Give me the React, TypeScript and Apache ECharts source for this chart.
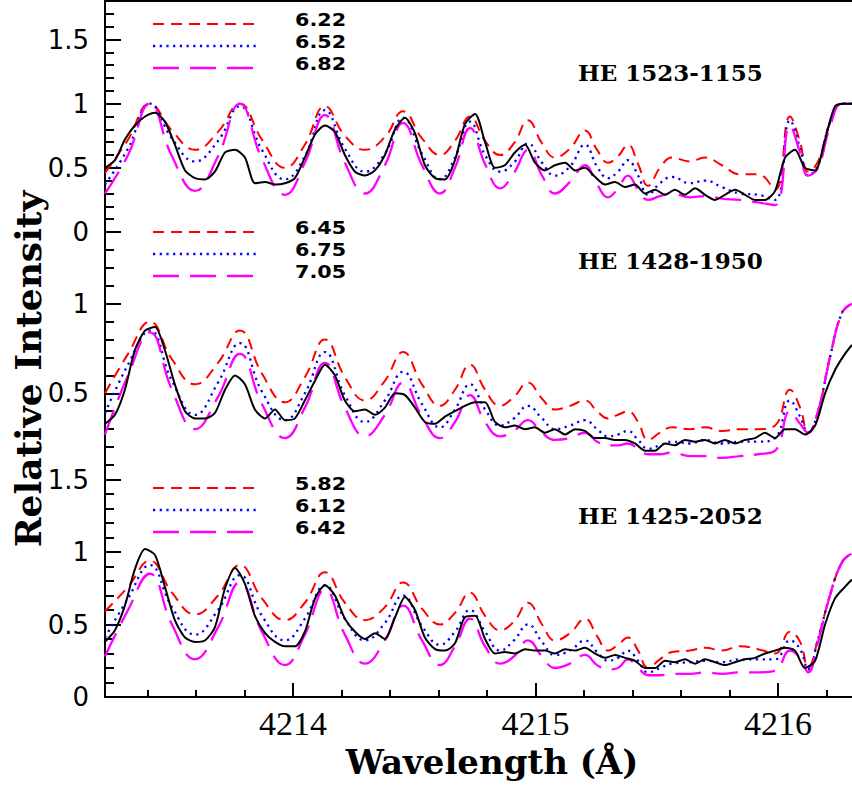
import React, { useEffect, useRef } from "react";
import * as echarts from "echarts";

// ---------- data ----------
// wavelength grid of the synthetic spectra (Å)
const synthWave = [4213.225, 4213.320, 4213.410, 4213.501, 4213.596, 4213.691, 4213.781, 4213.872, 4213.967, 4214.049, 4214.132, 4214.214, 4214.297, 4214.379, 4214.454, 4214.532, 4214.606, 4214.668, 4214.730, 4214.792, 4214.854, 4214.911, 4214.969, 4215.027, 4215.080, 4215.142, 4215.204, 4215.254, 4215.299, 4215.340, 4215.381, 4215.423, 4215.464, 4215.513, 4215.563, 4215.637, 4215.699, 4215.769, 4215.843, 4215.918, 4215.988, 4216.049, 4216.091, 4216.124, 4216.165, 4216.214, 4216.264, 4216.305];

// HE 1523-1155 synthetic spectra
const top622 = [0.46, 0.72, 1.00, 0.79, 0.64, 0.78, 1.00, 0.72, 0.50, 0.68, 0.98, 0.75, 0.64, 0.74, 0.94, 0.73, 0.60, 0.71, 0.90, 0.71, 0.60, 0.69, 0.87, 0.69, 0.58, 0.65, 0.79, 0.64, 0.54, 0.59, 0.68, 0.53, 0.36, 0.50, 0.58, 0.55, 0.58, 0.52, 0.45, 0.45, 0.33, 0.90, 0.70, 0.47, 0.55, 0.85, 1.00, 1.00];
const top652 = [0.37, 0.65, 1.00, 0.73, 0.55, 0.71, 0.98, 0.64, 0.41, 0.59, 0.95, 0.65, 0.47, 0.61, 0.89, 0.61, 0.41, 0.58, 0.86, 0.60, 0.47, 0.54, 0.69, 0.54, 0.44, 0.51, 0.68, 0.51, 0.42, 0.47, 0.56, 0.44, 0.29, 0.38, 0.43, 0.38, 0.40, 0.35, 0.30, 0.29, 0.25, 0.87, 0.65, 0.44, 0.52, 0.85, 1.00, 1.00];
const top682 = [0.30, 0.60, 1.00, 0.59, 0.32, 0.59, 1.00, 0.57, 0.29, 0.54, 0.91, 0.54, 0.30, 0.52, 0.85, 0.52, 0.30, 0.50, 0.81, 0.53, 0.34, 0.46, 0.64, 0.44, 0.30, 0.39, 0.52, 0.37, 0.27, 0.34, 0.44, 0.33, 0.25, 0.28, 0.30, 0.27, 0.28, 0.26, 0.25, 0.23, 0.21, 0.83, 0.62, 0.44, 0.50, 0.82, 1.00, 1.00];

// HE 1428-1950 synthetic spectra
const mid645 = [0.50, 0.72, 0.90, 0.69, 0.55, 0.67, 0.85, 0.61, 0.45, 0.59, 0.80, 0.59, 0.46, 0.57, 0.73, 0.55, 0.43, 0.52, 0.66, 0.52, 0.43, 0.48, 0.56, 0.47, 0.41, 0.43, 0.46, 0.40, 0.36, 0.38, 0.40, 0.34, 0.24, 0.28, 0.31, 0.30, 0.31, 0.29, 0.30, 0.30, 0.32, 0.52, 0.42, 0.28, 0.40, 0.70, 0.95, 1.00];
const mid675 = [0.39, 0.66, 0.85, 0.57, 0.38, 0.56, 0.78, 0.51, 0.35, 0.50, 0.73, 0.49, 0.34, 0.46, 0.62, 0.44, 0.31, 0.41, 0.55, 0.41, 0.32, 0.36, 0.43, 0.36, 0.30, 0.32, 0.35, 0.30, 0.26, 0.27, 0.29, 0.24, 0.19, 0.21, 0.23, 0.22, 0.24, 0.22, 0.23, 0.23, 0.25, 0.46, 0.37, 0.28, 0.40, 0.70, 0.95, 1.00];
const mid705 = [0.27, 0.60, 0.84, 0.52, 0.30, 0.48, 0.72, 0.44, 0.25, 0.42, 0.67, 0.42, 0.26, 0.38, 0.56, 0.37, 0.25, 0.34, 0.49, 0.34, 0.26, 0.29, 0.35, 0.28, 0.24, 0.25, 0.28, 0.23, 0.21, 0.21, 0.22, 0.19, 0.16, 0.16, 0.17, 0.15, 0.15, 0.14, 0.15, 0.16, 0.18, 0.40, 0.33, 0.28, 0.40, 0.70, 0.95, 1.00];

// HE 1425-2052 synthetic spectra
const bot582 = [0.59, 0.76, 0.94, 0.72, 0.57, 0.70, 0.91, 0.68, 0.53, 0.65, 0.86, 0.65, 0.53, 0.62, 0.79, 0.61, 0.50, 0.58, 0.72, 0.56, 0.46, 0.52, 0.65, 0.50, 0.39, 0.44, 0.54, 0.42, 0.32, 0.36, 0.41, 0.32, 0.20, 0.26, 0.31, 0.32, 0.34, 0.32, 0.35, 0.33, 0.30, 0.45, 0.38, 0.20, 0.40, 0.70, 0.93, 0.99];
const bot612 = [0.41, 0.68, 0.91, 0.62, 0.43, 0.60, 0.84, 0.56, 0.39, 0.54, 0.77, 0.54, 0.39, 0.51, 0.70, 0.49, 0.36, 0.45, 0.60, 0.45, 0.32, 0.39, 0.50, 0.38, 0.29, 0.32, 0.39, 0.31, 0.25, 0.27, 0.32, 0.25, 0.17, 0.20, 0.23, 0.24, 0.25, 0.24, 0.26, 0.26, 0.26, 0.39, 0.33, 0.19, 0.40, 0.70, 0.93, 0.99];
const bot642 = [0.28, 0.60, 0.85, 0.50, 0.26, 0.48, 0.79, 0.45, 0.22, 0.43, 0.74, 0.43, 0.23, 0.39, 0.63, 0.39, 0.22, 0.35, 0.54, 0.35, 0.23, 0.28, 0.39, 0.28, 0.20, 0.23, 0.29, 0.22, 0.19, 0.20, 0.26, 0.20, 0.15, 0.15, 0.16, 0.16, 0.17, 0.16, 0.17, 0.17, 0.18, 0.32, 0.27, 0.17, 0.38, 0.70, 0.93, 0.99];

// wavelength grid of the observed spectra (Å)
const obsWave = [4213.225, 4213.266, 4213.307, 4213.348, 4213.390, 4213.431, 4213.472, 4213.513, 4213.555, 4213.596, 4213.637, 4213.678, 4213.720, 4213.761, 4213.802, 4213.843, 4213.885, 4213.926, 4213.967, 4214.008, 4214.049, 4214.091, 4214.132, 4214.173, 4214.214, 4214.256, 4214.297, 4214.338, 4214.379, 4214.421, 4214.462, 4214.503, 4214.544, 4214.586, 4214.627, 4214.668, 4214.709, 4214.751, 4214.792, 4214.833, 4214.874, 4214.915, 4214.957, 4214.998, 4215.039, 4215.080, 4215.122, 4215.163, 4215.204, 4215.245, 4215.287, 4215.328, 4215.369, 4215.410, 4215.452, 4215.493, 4215.534, 4215.575, 4215.616, 4215.658, 4215.699, 4215.740, 4215.781, 4215.823, 4215.864, 4215.905, 4215.946, 4215.988, 4216.029, 4216.070, 4216.111, 4216.153, 4216.194, 4216.235, 4216.276, 4216.305];

const topObs = [0.50, 0.56, 0.72, 0.83, 0.90, 0.93, 0.86, 0.68, 0.48, 0.42, 0.41, 0.47, 0.62, 0.64, 0.58, 0.38, 0.39, 0.37, 0.38, 0.42, 0.58, 0.76, 0.83, 0.78, 0.60, 0.47, 0.44, 0.48, 0.60, 0.80, 0.89, 0.77, 0.52, 0.42, 0.41, 0.56, 0.84, 0.92, 0.70, 0.50, 0.52, 0.62, 0.68, 0.54, 0.48, 0.52, 0.54, 0.48, 0.50, 0.43, 0.37, 0.39, 0.35, 0.37, 0.30, 0.33, 0.29, 0.33, 0.29, 0.34, 0.29, 0.25, 0.29, 0.33, 0.29, 0.25, 0.25, 0.32, 0.58, 0.64, 0.50, 0.48, 0.72, 0.98, 1.00, 1.00];
const midObs = [0.33, 0.38, 0.52, 0.74, 0.85, 0.87, 0.74, 0.55, 0.40, 0.36, 0.36, 0.39, 0.52, 0.60, 0.55, 0.41, 0.36, 0.41, 0.35, 0.36, 0.46, 0.57, 0.66, 0.60, 0.46, 0.40, 0.41, 0.38, 0.42, 0.50, 0.49, 0.42, 0.34, 0.33, 0.37, 0.40, 0.43, 0.45, 0.45, 0.34, 0.31, 0.32, 0.30, 0.31, 0.28, 0.30, 0.27, 0.30, 0.29, 0.25, 0.25, 0.24, 0.24, 0.22, 0.18, 0.18, 0.22, 0.21, 0.24, 0.23, 0.24, 0.22, 0.24, 0.22, 0.24, 0.25, 0.28, 0.25, 0.30, 0.30, 0.27, 0.32, 0.50, 0.63, 0.72, 0.77];
const botObs = [0.38, 0.46, 0.63, 0.88, 1.02, 0.98, 0.76, 0.53, 0.41, 0.38, 0.39, 0.48, 0.75, 0.89, 0.78, 0.56, 0.44, 0.38, 0.35, 0.35, 0.45, 0.68, 0.77, 0.70, 0.54, 0.45, 0.40, 0.44, 0.40, 0.55, 0.69, 0.60, 0.41, 0.33, 0.32, 0.37, 0.55, 0.56, 0.40, 0.30, 0.31, 0.30, 0.33, 0.32, 0.32, 0.30, 0.33, 0.32, 0.34, 0.30, 0.27, 0.29, 0.27, 0.25, 0.20, 0.20, 0.25, 0.24, 0.26, 0.23, 0.26, 0.24, 0.22, 0.24, 0.26, 0.27, 0.30, 0.32, 0.34, 0.32, 0.20, 0.25, 0.50, 0.68, 0.76, 0.81];

// labels
const starNames = ["HE 1523-1155", "HE 1428-1950", "HE 1425-2052"];
const topAbund = ["6.22", "6.52", "6.82"];
const midAbund = ["6.45", "6.75", "7.05"];
const botAbund = ["5.82", "6.12", "6.42"];

// axes
const xRange = [4213.225, 4216.305];
const xMajorTicks = [4214, 4215, 4216];
const xMinorTicks = [4213.4, 4213.6, 4213.8, 4214.2, 4214.4, 4214.6, 4214.8, 4215.2, 4215.4, 4215.6, 4215.8, 4216.2];
const topYRange = [0, 1.8];
const midYRange = [0.1, 1.4];
const botYRange = [0, 1.6];
const topYTicks = [0, 0.5, 1, 1.5];
const midYTicks = [0.5, 1];
const botYTicks = [0, 0.5, 1, 1.5];
const xTitle = "Wavelength (Å)";
const yTitle = "Relative Intensity";

// ---------- styles ----------
const RED = "#ff0000";
const BLUE = "#0000ff";
const MAG = "#ff00ff";
const redDash = [11, 7];
const blueDash = [2.2, 4.5];
const magDash = [26, 11];

function tenths(lo: number, hi: number): number[] {
  const out: number[] = [];
  for (let i = Math.round(lo * 10); i <= Math.round(hi * 10); i++) out.push(i / 10);
  return out;
}

const zip = (xs: number[], ys: number[]) => ys.map((y, i) => [xs[i], y]);

export default function App() {
  const ref = useRef<HTMLDivElement>(null);

  useEffect(() => {
    if (!ref.current) return;
    const chart = echarts.init(ref.current, undefined, { renderer: "svg" });

    const panels = [
      { top: 1, height: 231, range: topYRange, ticks: topYTicks, synth: [top622, top652, top682], obs: topObs, names: topAbund },
      { top: 232, height: 233, range: midYRange, ticks: midYTicks, synth: [mid645, mid675, mid705], obs: midObs, names: midAbund },
      { top: 465, height: 232, range: botYRange, ticks: botYTicks, synth: [bot582, bot612, bot642], obs: botObs, names: botAbund },
    ];
    const gridLeft = 105;
    const gridWidth = 747;
    const axisLineStyle = { color: "#000", width: 2 };

    const grid = panels.map((p) => ({ left: gridLeft, width: gridWidth, top: p.top, height: p.height }));

    const xAxis: any[] = panels.map((p, g) => ({
      type: "value",
      gridIndex: g,
      position: "bottom",
      min: xRange[0],
      max: xRange[1],
      show: g === 2,
      axisLine: { show: true, onZero: false, lineStyle: axisLineStyle },
      axisTick: { show: true, inside: true, length: 14, customValues: xMajorTicks, lineStyle: axisLineStyle },
      axisLabel: {
        show: true,
        customValues: xMajorTicks,
        margin: 9,
        color: "#000",
        fontFamily: "Liberation Serif",
        fontSize: 34,
        formatter: (v: number) => String(Math.round(v)),
      },
      splitLine: { show: false },
    }));
    xAxis.push({
      type: "value",
      gridIndex: 2,
      position: "bottom",
      min: xRange[0],
      max: xRange[1],
      axisLine: { show: false, onZero: false },
      axisTick: { show: true, inside: true, length: 7, customValues: xMinorTicks, lineStyle: axisLineStyle },
      axisLabel: { show: false },
      splitLine: { show: false },
    });
    xAxis.push({
      type: "value",
      gridIndex: 0,
      position: "top",
      min: xRange[0],
      max: xRange[1],
      axisLine: { show: true, onZero: false, lineStyle: axisLineStyle },
      axisTick: { show: false },
      axisLabel: { show: false },
      splitLine: { show: false },
    });

    const yAxis: any[] = [];
    panels.forEach((p, g) => {
      yAxis.push({
        type: "value",
        gridIndex: g,
        position: "left",
        offset: 0,
        min: p.range[0],
        max: p.range[1],
        axisLine: { show: true, onZero: false, lineStyle: axisLineStyle },
        axisTick: { show: true, inside: true, length: 16, customValues: p.ticks, lineStyle: axisLineStyle },
        axisLabel: {
          show: true,
          customValues: p.ticks,
          margin: 16,
          color: "#000",
          fontFamily: "DejaVu Sans",
          fontSize: 26,
          formatter: (v: number) => String(+v.toFixed(2)),
        },
        splitLine: { show: false },
      });
      yAxis.push({
        type: "value",
        gridIndex: g,
        position: "left",
        offset: 0,
        min: p.range[0],
        max: p.range[1],
        axisLine: { show: false, onZero: false },
        axisTick: { show: true, inside: true, length: 9, customValues: tenths(p.range[0], p.range[1]), lineStyle: axisLineStyle },
        axisLabel: { show: false },
        splitLine: { show: false },
      });
    });

    const lineDefs = [
      { color: RED, dash: redDash, width: 2 },
      { color: BLUE, dash: blueDash, width: 2.3 },
      { color: MAG, dash: magDash, width: 2.3 },
    ];

    const series: any[] = [];
    panels.forEach((p, g) => {
      p.synth.forEach((vals, k) => {
        series.push({
          type: "line",
          name: p.names[k],
          xAxisIndex: g,
          yAxisIndex: 2 * g,
          data: zip(synthWave, vals),
          symbol: "none",
          smooth: 0.45,
          lineStyle: { color: lineDefs[k].color, width: lineDefs[k].width, type: lineDefs[k].dash },
          z: 3,
        });
      });
      series.push({
        type: "line",
        name: starNames[g] + " observed",
        xAxisIndex: g,
        yAxisIndex: 2 * g,
        data: zip(obsWave, p.obs),
        symbol: "none",
        smooth: 0.25,
        lineStyle: { color: "#000", width: 2, type: "solid" },
        z: 4,
      });
    });

    // legend blocks and star labels
    const legendRows = [
      { textY: [20, 42, 64], names: topAbund },
      { textY: [228, 250, 272], names: midAbund },
      { textY: [484, 506, 528], names: botAbund },
    ];
    const graphic: any[] = [];
    legendRows.forEach((blk) => {
      blk.names.forEach((nm, k) => {
        const y = blk.textY[k] + 4;
        graphic.push({
          type: "line",
          shape: { x1: 153, y1: y, x2: 258, y2: y },
          style: { stroke: lineDefs[k].color, lineWidth: lineDefs[k].width, lineDash: lineDefs[k].dash },
          z: 10,
        });
        graphic.push({
          type: "text",
          x: 295,
          y: blk.textY[k],
          scaleX: 1.15,
          style: { text: nm, fill: "#000", font: "bold 18px 'DejaVu Sans'", textVerticalAlign: "middle", verticalAlign: "middle" },
          z: 10,
        });
      });
    });
    const starY = [72, 260, 515];
    starNames.forEach((nm, i) => {
      graphic.push({
        type: "text",
        x: 578,
        y: starY[i],
        style: { text: nm, fill: "#000", font: "bold 23px 'DejaVu Serif'", verticalAlign: "middle", textVerticalAlign: "middle" },
        z: 10,
      });
    });
    graphic.push({
      type: "text",
      x: 492,
      y: 762,
      style: { text: xTitle, fill: "#000", font: "bold 34px 'DejaVu Serif'", align: "center", textAlign: "center", verticalAlign: "middle", textVerticalAlign: "middle" },
    });
    graphic.push({
      type: "text",
      x: 28,
      y: 369,
      rotation: Math.PI / 2,
      style: { text: yTitle, fill: "#000", font: "bold 36px 'DejaVu Serif'", align: "center", textAlign: "center", verticalAlign: "middle", textVerticalAlign: "middle" },
    });

    chart.setOption({
      animation: false,
      backgroundColor: "#fff",
      grid,
      xAxis,
      yAxis,
      series,
      graphic,
    });

    return () => chart.dispose();
  }, []);

  return <div ref={ref} style={{ position: "absolute", left: 0, top: 0, width: 852, height: 786 }} />;
}
